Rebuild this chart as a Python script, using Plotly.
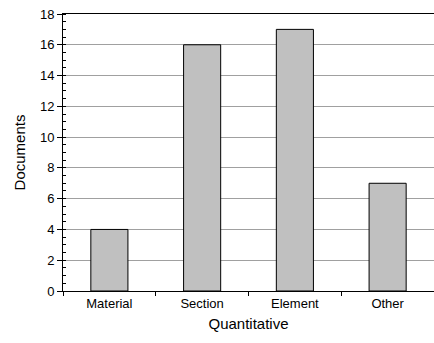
import plotly.graph_objects as go

categories = ["Material", "Section", "Element", "Other"]
documents = [4, 16, 17, 7]
y_ticks = [0, 2, 4, 6, 8, 10, 12, 14, 16, 18]

fig = go.Figure(
    go.Bar(
        x=categories,
        y=documents,
        width=0.4,
        marker=dict(color="#c0c0c0", line=dict(color="black", width=1)),
    )
)

font = "Liberation Sans, Arial, sans-serif"

fig.update_layout(
    width=434,
    height=343,
    margin=dict(l=63, r=0, t=14, b=52),
    paper_bgcolor="white",
    plot_bgcolor="white",
    showlegend=False,
    font=dict(family=font, size=13, color="black"),
)

fig.update_xaxes(
    type="category",
    range=[-0.5, 3.5],
    showline=True,
    linecolor="black",
    linewidth=1,
    mirror=True,
    ticks="outside",
    tickson="boundaries",
    ticklen=4,
    tickcolor="black",
    showgrid=False,
    tickfont=dict(size=13),
    title=dict(text="Quantitative", font=dict(size=15), standoff=8),
)

fig.update_yaxes(
    range=[0, 18],
    tickvals=y_ticks,
    showline=True,
    linecolor="black",
    linewidth=1,
    ticks="outside",
    ticklen=5,
    tickcolor="black",
    showgrid=True,
    gridcolor="#a0a0a0",
    gridwidth=1,
    zeroline=False,
    minor=dict(dtick=0.5, ticks="inside", ticklen=3, tickcolor="black", showgrid=False),
    tickfont=dict(size=13),
    title=dict(text="Documents", font=dict(size=15), standoff=10),
)

fig.write_html("out.html")
